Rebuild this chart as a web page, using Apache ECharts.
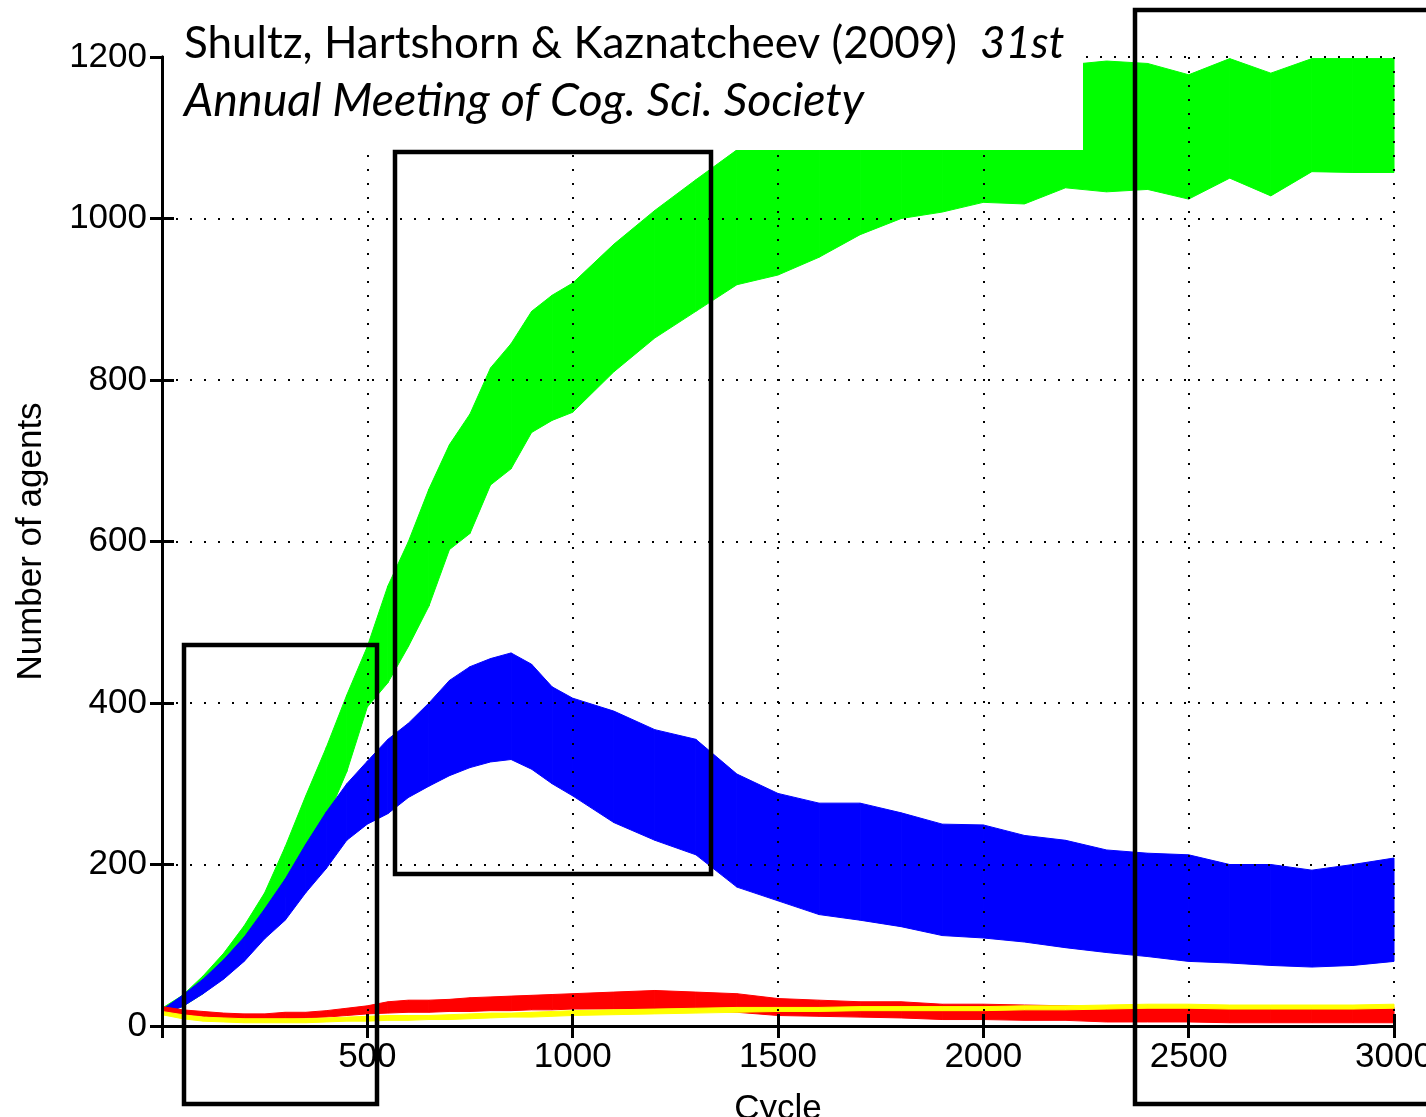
<!DOCTYPE html>
<html>
<head>
    <meta charset="utf-8">
    <title>Number of agents per cycle</title>
    <script src="https://cdn.jsdelivr.net/npm/echarts@6/dist/echarts.min.js"></script>
    <style>
        html, body { margin: 0; padding: 0; background: #fff; }
        #chart { width: 1426px; height: 1117px; }
    </style>
</head>
<body>
<div id="chart"></div>
<script>
    const cycles = [0, 50, 100, 150, 200, 250, 300, 350, 400, 450, 500, 550, 600, 650, 700, 750, 800, 850, 900, 950, 1000,
        1100, 1200, 1300, 1400, 1500, 1600, 1700, 1800, 1900, 2000, 2100, 2200, 2300, 2400, 2500, 2600, 2700, 2800, 2900, 3000];

    const greenHigh = [22, 38, 62, 90, 124, 165, 222, 285, 345, 410, 470, 545, 600, 665, 720, 758, 815, 845, 885, 905, 920,
        968, 1010, 1048, 1085, 1140, 1165, 1170, 1175, 1180, 1185, 1185, 1190, 1195, 1192, 1178, 1198, 1180, 1198, 1198, 1198];
    const greenLow = [15, 24, 40, 62, 88, 120, 160, 205, 255, 315, 395, 425, 470, 520, 590, 610, 670, 690, 735, 750, 760,
        810, 852, 885, 918, 930, 952, 980, 1000, 1008, 1020, 1018, 1038, 1033, 1036, 1024, 1050, 1028, 1058, 1057, 1057];

    const blueHigh = [20, 38, 58, 82, 110, 145, 182, 225, 265, 300, 328, 355, 375, 400, 428, 445, 455, 462, 448, 420, 406,
        390, 367, 355, 312, 288, 276, 276, 264, 250, 249, 236, 230, 218, 214, 212, 200, 200, 193, 200, 208];
    const blueLow = [15, 24, 40, 58, 80, 108, 131, 165, 195, 230, 250, 263, 283, 297, 310, 320, 327, 330, 318, 300, 285,
        252, 230, 212, 172, 155, 138, 131, 123, 112, 109, 104, 97, 91, 86, 80, 78, 75, 73, 75, 80];

    const redHigh = [24, 20, 18, 16, 15, 15, 17, 17, 19, 22, 25, 30, 32, 32, 33, 35, 36, 37, 38, 39, 40,
        42, 44, 42, 40, 34, 32, 30, 30, 27, 27, 26, 25, 24, 24, 24, 23, 23, 23, 23, 23];
    const redLow = [17, 14, 12, 8, 7, 7, 9, 10, 11, 13, 15, 16, 17, 17, 18, 18, 19, 19, 20, 20, 21,
        21, 21, 19, 17, 13, 12, 11, 10, 8, 8, 7, 7, 5, 5, 5, 4, 4, 4, 4, 4];

    const yellowHigh = [18, 14, 11, 10, 9, 9, 9, 9, 10, 11, 12, 13, 13, 13, 14, 15, 16, 16, 17, 18, 19,
        20, 21, 22, 23, 23, 23, 24, 24, 24, 24, 25, 25, 26, 27, 27, 26, 26, 26, 26, 27];
    const yellowLow = [14, 9, 6, 5, 4, 4, 4, 4, 5, 6, 6, 7, 7, 8, 8, 9, 10, 11, 11, 12, 13,
        14, 15, 16, 17, 18, 18, 19, 19, 19, 19, 20, 20, 21, 22, 22, 21, 21, 21, 21, 22];

    const xTicks = [0, 500, 1000, 1500, 2000, 2500, 3000];
    const yTicks = [0, 200, 400, 600, 800, 1000, 1200];

    const axisFont = 'Liberation Sans';
    const titleFont = 'Lato';

    // a band is drawn as one quad per pair of neighbouring samples:
    // [x0, x1, low0, high0, low1, high1]
    const band = (name, low, high, color) => ({
        name: name,
        type: 'custom',
        silent: true,
        data: cycles.slice(1).map((c, i) => [cycles[i], c, low[i], high[i], low[i + 1], high[i + 1]]),
        renderItem: (params, api) => {
            const x0 = api.value(0), x1 = api.value(1);
            const pts = [
                api.coord([x0, api.value(2)]),
                api.coord([x1, api.value(4)]),
                api.coord([x1, api.value(5)]),
                api.coord([x0, api.value(3)])
            ];
            return {
                type: 'polygon',
                shape: {points: pts},
                style: {fill: color, stroke: color, lineWidth: 1}
            };
        }
    });

    const gridDots = {show: true, lineStyle: {color: '#000', width: 2, type: [2, 12]}};
    const tick = {show: true, inside: true, length: 12, lineStyle: {color: '#000', width: 3}};
    const line = {show: true, lineStyle: {color: '#000', width: 3}};
    const plain = v => String(v);

    const chart = echarts.init(document.getElementById('chart'));
    chart.setOption({
        animation: false,
        grid: {left: 162, top: 57, right: 32, bottom: 91, containLabel: false, outerBoundsMode: 'none'},
        xAxis: [{
            type: 'value', min: xTicks[0], max: xTicks[xTicks.length - 1], interval: 500, z: 10,
            axisLine: line, axisTick: tick, splitLine: gridDots,
            axisLabel: {showMinLabel: false, color: '#000', fontSize: 35, fontFamily: axisFont, margin: 14, formatter: plain},
            name: 'Cycle', nameLocation: 'middle', nameGap: 66,
            nameTextStyle: {color: '#000', fontSize: 35, fontFamily: axisFont}
        }, {
            type: 'value', position: 'top', min: 0, max: 3000, interval: 500, z: 10,
            axisLine: line, axisTick: tick, axisLabel: {show: false}, splitLine: {show: false}
        }],
        yAxis: [{
            type: 'value', min: yTicks[0], max: yTicks[yTicks.length - 1], interval: 200, z: 10,
            axisLine: line, axisTick: tick, splitLine: gridDots,
            axisLabel: {color: '#000', fontSize: 35, fontFamily: axisFont, margin: 15, formatter: plain},
            name: 'Number of agents', nameLocation: 'middle', nameGap: 113,
            nameTextStyle: {color: '#000', fontSize: 35, fontFamily: axisFont}
        }, {
            type: 'value', position: 'right', min: 0, max: 1200, interval: 200, z: 10,
            axisLine: line, axisTick: tick, axisLabel: {show: false}, splitLine: {show: false}
        }],
        series: [
            band('green', greenLow, greenHigh, '#00ff00'),
            band('blue', blueLow, blueHigh, '#0000ff'),
            band('red', redLow, redHigh, '#ff0000'),
            band('yellow', yellowLow, yellowHigh, '#ffff00')
        ],
        graphic: [
            // white box behind the citation
            {type: 'rect', z: 100, shape: {x: 164, y: 0, width: 919, height: 150}, style: {fill: '#fff'}},
            {type: 'text', z: 101, style: {
                text: 'Shultz, Hartshorn & Kaznatcheev (2009)', x: 184, y: 44,
                font: '44px ' + titleFont, fill: '#000', verticalAlign: 'middle'
            }},
            {type: 'text', z: 101, style: {
                text: '31st', x: 980, y: 44,
                font: 'italic 44px ' + titleFont, fill: '#000', verticalAlign: 'middle'
            }},
            {type: 'text', z: 101, style: {
                text: 'Annual Meeting of Cog. Sci. Society', x: 184, y: 101,
                font: 'italic 46.5px ' + titleFont, fill: '#000', verticalAlign: 'middle'
            }},
            // highlight boxes
            {type: 'rect', z: 102, shape: {x: 184, y: 645, width: 193, height: 459},
                style: {fill: 'none', stroke: '#000', lineWidth: 4.5}},
            {type: 'rect', z: 102, shape: {x: 395, y: 152, width: 316, height: 722},
                style: {fill: 'none', stroke: '#000', lineWidth: 4.5}},
            {type: 'rect', z: 102, shape: {x: 1135, y: 10, width: 400, height: 1094},
                style: {fill: 'none', stroke: '#000', lineWidth: 4.5}}
        ]
    });
</script>
</body>
</html>
